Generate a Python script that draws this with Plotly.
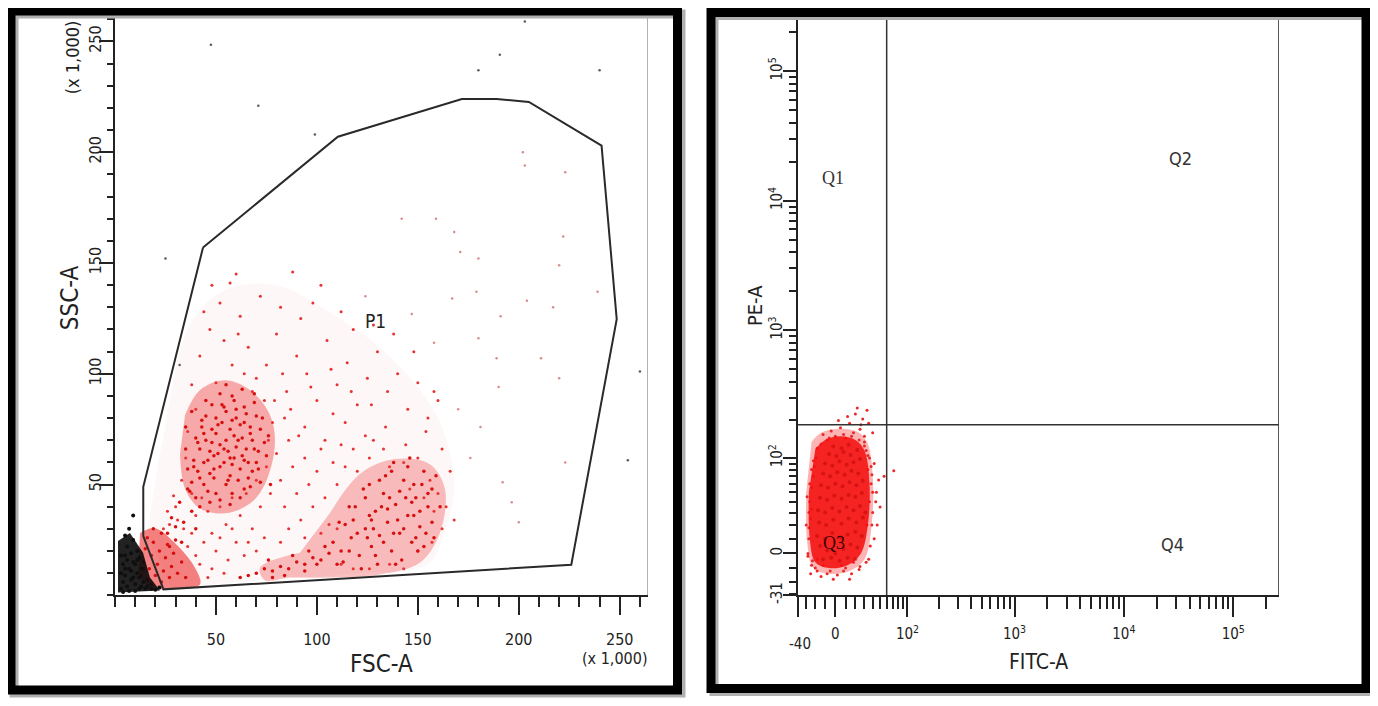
import numpy as np
import plotly.graph_objects as go

# page is offset by the default 8px body margin
OFF = 8
W, H = 1370, 698

# ---------------- Left panel data: FSC-A / SSC-A (x 1,000) ----------------
gate_p1_fsc = [43.6, 110.4, 171.8, 189.0, 205.0, 241.0, 248.5, 226.0, 24.0, 14.0, 14.0, 43.6]
gate_p1_ssc = [157.0, 207.0, 224.0, 224.0, 222.7, 203.0, 124.7, 13.8, 2.7, 26.7, 49.0, 157.0]

# density outlines (dense red areas)
cloud_fsc = [16, 24, 37, 55, 80, 106, 136, 160, 168, 163, 155, 120, 60, 28]
cloud_ssc = [28, 72, 122, 138, 140, 128, 108, 80, 50, 28, 14, 10, 6, 3]
dense1_fsc = [34.7, 42.1, 54.5, 66.8, 76.7, 79.2, 74.3, 66.8, 54.5, 42.1, 34.7, 32.2]
dense1_ssc = [81.5, 92.7, 97.1, 92.7, 81.5, 68.2, 50.3, 41.4, 37.0, 39.2, 48.1, 63.7]
dense2_fsc = [106.4, 121.3, 138.6, 155.9, 163.4, 160.9, 151.0, 131.2, 106.4, 86.6, 74.3, 71.8, 91.6]
dense2_ssc = [37.0, 54.8, 61.5, 59.2, 48.1, 28.1, 14.7, 9.4, 8.0, 8.0, 6.7, 12.5, 19.2]
dense3_fsc = [12.4, 19.8, 29.7, 39.6, 42.1, 27.2, 17.3, 11.4]
dense3_ssc = [28.1, 30.3, 23.6, 12.5, 4.9, 2.7, 3.6, 10.2]
debris_fsc = [1.5, 7.4, 13.9, 17.3, 22.3, 1.5]
debris_ssc = [24.5, 28.1, 19.2, 8.0, 2.2, 1.3]

core1_pts = [
    (40,44),(46,47),(52,43),(58,46),(64,48),
    (38,51),(44,50),(49,53),(55,50),(61,52),(67,49),
    (41,56),(47,55),(52,58),(57,54),(62,57),(68,56),
    (39,61),(44,60),(49,63),(54,60),(59,62),(64,61),(70,60),
    (42,66),(47,65),(52,68),(56,65),(60,67),(65,66),(71,65),
    (40,71),(45,70),(50,73),(55,70),(59,72),(63,71),(68,70),
    (43,76),(48,75),(53,78),(57,75),(62,77),(67,76),(72,75),
    (45,81),(50,80),(55,83),(60,80),(65,82),(70,81),
    (48,86),(54,85),(59,88),(64,85),(69,87),
    (52,91),(58,90),(63,93),(36,57),(35,66),(74,69),
    (37,47),(39,58),(41,69),(43,79),(45,88),(47,42),(49,57),(51,64),(53,86),(55,95),
    (57,41),(58,59),(60,84),(62,44),(63,63),(66,53),(67,73),(69,91),(71,57),(73,80),
    (75,63),(76,72),(77,50),(35,76),(42,53),(46,61),(48,69),(51,77),(54,66),(56,52),
    (58,79),(61,70),(64,78),(66,60),(69,66),(72,51),(44,73),(38,83),(50,46),(57,62),
]
bridge_pts = [
    (26,28),(28,35),(30,25),(32,42),(34,33),(36,48),(38,38),(30,31),(27,22),(33,24),(40,30),(42,40),
]
core2_pts = [
    (112,20),(117,26),(121,18),(124,30),(127,22),(129,38),(131,27),(133,46),(135,33),(137,20),
    (139,41),(141,28),(143,52),(145,36),(147,24),(149,44),(151,31),(153,56),(155,40),(157,48),
    (119,40),(123,48),(126,36),(134,54),(138,60),(142,16),(146,62),(150,20),(114,32),(130,14),
    (136,44),(140,34),(144,44),(128,30),(132,40),(148,36),(152,50),(125,26),(118,34),(154,28),
    (108,24),(111,33),(113,15),(116,40),(120,28),(122,12),(124,44),(127,34),(129,18),(131,52),
    (133,24),(135,39),(137,56),(139,14),(141,47),(143,30),(145,58),(147,42),(149,26),(151,38),
    (153,22),(155,46),(157,33),(159,54),(161,40),(116,20),(126,50),(138,28),(148,50),(158,26),
]
band_pts = [
    (70,10),(74,12),(78,11),(82,13),(86,12),(90,15),(94,14),(98,17),(102,16),(106,19),
    (76,16),(88,18),(96,20),(104,22),(110,14),(66,9),(62,8),(100,14),(94,11),(84,9),(78,8),
]
origin_red_pts = [
    (13,9),(14,15),(15,21),(16,26),(16,7),(17,12),(18,18),(19,24),(20,9),(21,14),(22,20),
    (23,6),(24,11),(25,17),(26,23),(27,8),(28,13),(29,19),(31,10),(33,15),(35,8),(19,30),
    (23,28),(14,12),(18,5),
]
sparse_red_pts = [
    (38,95),(42,108),(47,120),(52,132),(57,141),(62,126),(66,112),(70,98),(75,104),(80,118),
    (85,92),(90,108),(95,100),(100,88),(105,115),(110,95),(115,105),(120,86),(125,98),(130,110),
    (135,92),(140,100),(145,84),(150,96),(155,80),(160,88),(72,135),(82,130),(92,125),(102,140),
    (112,128),(48,140),(60,145),(88,146),(98,132),(118,120),(128,122),(138,118),(44,128),(54,115),
    (64,100),(74,88),(84,80),(94,76),(104,70),(114,78),(124,72),(134,76),(144,68),(154,74),
    (162,66),(158,92),(148,110),(108,82),(78,78),(68,92),(58,104),(50,96),(40,84),(36,74),
    (30,40),(33,52),(35,62),(38,46),(40,36),(43,44),(46,38),(48,28),(52,40),(55,32),
    (58,44),(62,36),(65,46),(68,30),(70,52),(72,40),(75,58),(77,46),(80,64),(82,52),
    (84,40),(86,70),(88,58),(90,46),(92,34),(94,62),(96,50),(98,40),(100,56),(102,66),
    (104,44),(106,32),(108,60),(110,50),(112,68),(114,58),(118,66),(120,56),(126,62),(128,70),
    (133,66),(136,58),(143,60),(146,48),(150,62),(153,44),(156,52),(158,38),(160,46),(162,30),
    (164,40),(166,56),(168,34),(157,24),(150,20),(143,12),(136,14),(126,12),(118,12),(112,14),
    (60,24),(64,18),(56,16),(50,20),(44,24),(38,28),(34,30),(42,14),(48,12),(54,10),
    (27,32),(31,34),(29,45),(26,38),(24,30),(36,22),(40,18),(46,8),(52,26),(58,30),
    (66,24),(70,20),(74,26),(82,24),(86,30),(94,26),(102,28),(110,30),
    (79,88),(87,84),(97,94),(107,102),(117,92),(127,86),(76,70),(91,72),(83,100),(61,118),
]
faint_in_gate_pts = [
    (202,200),(203,194),(223,191),(142,170),(159,170),(168,164),(171,155),(180,152),(222,162),
    (220,149),(239,137),(217,130),(179,137),(191,126),(204,133),(167,134),(147,127),(124,135),
    (180,116),(158,114),(189,107),(211,107),(220,98),(190,94),(181,76),(223,60),(192,51),
    (196.5,42),(200,33),(170,84),(176,62),
]
outside_pts = [
    (47.5,248.5),(71,221),(99,208),(25,152),(203,259),(190.6,244),(180,237),(240,237),
    (254,61),(260,101),(32,104),
]
debris_pts = [
    (3,3),(4,6),(5,9),(6,4),(7,12),(8,7),(9,15),(10,5),(11,10),(12,3),(4,14),(5,18),
    (6,22),(7,2),(8,19),(9,25),(10,14),(11,20),(12,8),(13,4),(14,6),(15,3),(3,10),(4,1.5),
    (6,16),(8,11),(10,2),(12,17),(7,30),(9,36),(5,27),(16,4),(18,3),(20,2.5),(22,3.5),
    (5,12),(9,8),(11,16),(3,18),(13,12),
]

x_major_left = [50, 100, 150, 200, 250]
y_major_left = [50, 100, 150, 200, 250]

# ---------------- Right panel data: FITC-A / PE-A ----------------
gate_fitc = 60.0
gate_pe = 185.0

q3_outer_fitc = [-24, -14, 5, 24, 34, 40, 39, 30, 14, -6, -22, -29, -30]
q3_outer_pe = [135, 160, 172, 160, 130, 70, 22, -4, -12, -14, -10, 8, 50]
q3_dense_fitc = [-20, -10, 5, 20, 30, 36, 34, 26, 12, -6, -20, -26, -27]
q3_dense_pe = [118, 140, 150, 140, 115, 60, 20, 0, -8, -10, -6, 10, 50]

q3_core_pts = [
    (-15,5),(-8,2),(0,0),(8,3),(15,6),(22,4),
    (-18,12),(-10,10),(-3,14),(5,11),(12,13),(20,15),(27,12),
    (-16,22),(-9,20),(-2,24),(6,21),(13,25),(21,22),(28,26),
    (-17,32),(-10,30),(-3,34),(4,31),(11,35),(18,32),(25,36),(31,30),
    (-15,44),(-8,42),(-1,46),(6,43),(13,47),(20,45),(27,49),
    (-14,58),(-7,55),(0,60),(7,57),(14,62),(21,58),(28,64),
    (-12,74),(-5,70),(2,76),(9,72),(16,78),(23,74),
    (-10,90),(-3,86),(4,94),(11,88),(18,92),(25,98),
    (-6,108),(1,104),(8,112),(15,106),(22,116),
    (-2,124),(6,120),(13,128),
    (-12,-4),(-4,-3),(4,-5),(12,-3),(20,-4),
]
q3_halo_pts = [
    (-27,10),(-25,25),(-26,40),(-24,55),(-22,70),(-23,-5),(-21,85),(-20,-10),(-25,-14),(-19,100),
    (-27,18),(-24,33),(33,20),(36,40),(38,60),(34,80),(40,30),(42,10),(36,100),(45,50),
    (32,115),(39,72),(48,65),(35,-4),(-8,140),(0,150),(10,145),(18,160),(25,170),(30,135),
    (5,175),(-4,165),(14,190),(28,205),(20,225),(33,240),(22,250),(12,215),(35,190),(40,160),
    (-12,-8),(-5,-12),(2,-15),(10,-10),(18,-6),(25,-9),(-18,-4),(14,-18),(-14,-16),(6,-8),
    (56,70),(72,78),
    (-28,0),(-27,30),(-26,60),(-24,80),(-22,95),(-18,120),(-14,130),(-6,145),(8,155),(16,150),
    (24,140),(30,125),(34,105),(38,85),(40,50),(39,20),(37,5),(32,-6),(24,-11),(8,-12),
    (-8,-14),(-18,-12),(-24,-8),(-28,-2),(44,40),(46,20),(-30,20),(-29,45),(3,200),(26,185),
    (30,150),(-12,155),(50,35),(42,90),(-2,-18),(16,-14),
]

fitc_major = [-40, 0, 100, 1000, 10000, 100000]
fitc_major_text = ["", "0", "10<sup>2</sup>", "10<sup>3</sup>", "10<sup>4</sup>", "10<sup>5</sup>"]
pe_major = [-31, 0, 100, 1000, 10000, 100000]
pe_major_text = ["-31", "0", "10<sup>2</sup>", "10<sup>3</sup>", "10<sup>4</sup>", "10<sup>5</sup>"]
fitc_minor = [-30, -20, -10, 10, 20, 30, 40, 50, 60, 70, 80, 90,
              200, 300, 400, 500, 600, 700, 800, 900,
              2000, 3000, 4000, 5000, 6000, 7000, 8000, 9000,
              20000, 30000, 40000, 50000, 60000, 70000, 80000, 90000, 200000]
pe_minor = [-30, -20, -10, 10, 20, 30, 40, 50, 60, 70, 80, 90,
            200, 300, 400, 500, 600, 700, 800, 900,
            2000, 3000, 4000, 5000, 6000, 7000, 8000, 9000,
            20000, 30000, 40000, 50000, 60000, 70000, 80000, 90000, 200000]
FMAX = 262143


# biexponential-like display transform (arcsinh)
def fx(v):
    return np.arcsinh(np.asarray(v, dtype=float) / 46.0)


def fy(v):
    return np.arcsinh(np.asarray(v, dtype=float) / 38.0)


def unz(pts):
    return [p[0] for p in pts], [p[1] for p in pts]


def PX(x):
    return (x - OFF) / W


def PY(y):
    return 1 - (y - OFF) / H


NARROW = "Liberation Sans Narrow, Arial Narrow, DejaVu Sans Condensed, Liberation Sans"
TICKFONT = dict(family=NARROW, size=16, color="#222")
LABFONT = dict(family=NARROW, size=24, color="#222")
QSERIF = dict(family="Liberation Serif, Times New Roman, serif", size=18, color="#333")
QSANS = dict(family=NARROW, size=18, color="#333")

fig = go.Figure()


def sc(x, y, ax, **kw):
    fig.add_trace(go.Scatter(x=x, y=y, xaxis="x" if ax == 1 else "x2", yaxis="y" if ax == 1 else "y2",
                             hoverinfo="skip", **kw))


# ---- left traces
sc(cloud_fsc, cloud_ssc, 1, mode="lines", fill="toself", line=dict(width=0, shape="spline"),
   fillcolor="rgba(240,90,90,0.05)")
for fx_, fy_, a in ((dense1_fsc, dense1_ssc, 0.36), (dense2_fsc, dense2_ssc, 0.28), (dense3_fsc, dense3_ssc, 0.55)):
    sc(fx_, fy_, 1, mode="lines", fill="toself", line=dict(width=0, shape="spline"),
       fillcolor=f"rgba(235,30,30,{a})")
x, y = unz(sparse_red_pts)
sc(x, y, 1, mode="markers", marker=dict(size=3, color="rgb(232,50,50)"))
for pts in (core1_pts, bridge_pts, core2_pts, band_pts, origin_red_pts):
    x, y = unz(pts)
    sc(x, y, 1, mode="markers", marker=dict(size=3.5, color="rgb(215,15,15)"))
x, y = unz(faint_in_gate_pts)
sc(x, y, 1, mode="markers", marker=dict(size=2.5, color="rgb(215,140,140)"))
x, y = unz(outside_pts)
sc(x, y, 1, mode="markers", marker=dict(size=2.5, color="rgb(90,90,90)"))
sc(debris_fsc, debris_ssc, 1, mode="lines", fill="toself", line=dict(width=0), fillcolor="rgba(10,10,10,0.9)")
x, y = unz(debris_pts)
sc(x, y, 1, mode="markers", marker=dict(size=4, color="rgb(15,15,15)"))
sc(gate_p1_fsc, gate_p1_ssc, 1, mode="lines", line=dict(color="#2a2a2a", width=2))

# ---- right traces
sc(fx(q3_outer_fitc), fy(q3_outer_pe), 2, mode="lines", fill="toself",
   line=dict(width=0, shape="spline"), fillcolor="rgba(245,40,40,0.35)")
x, y = unz(q3_halo_pts)
sc(fx(x), fy(y), 2, mode="markers", marker=dict(size=3, color="rgb(235,40,40)"))
sc(fx(q3_dense_fitc), fy(q3_dense_pe), 2, mode="lines", fill="toself",
   line=dict(width=0, shape="spline"), fillcolor="rgba(245,15,15,0.88)")
x, y = unz(q3_core_pts)
sc(fx(x), fy(y), 2, mode="markers", marker=dict(size=4, color="rgba(180,0,0,0.45)"))

axis_common = dict(showgrid=False, zeroline=False, showline=True, linecolor="#222", linewidth=1.5,
                   ticks="outside", tickcolor="#222", tickwidth=1.5, tickfont=TICKFONT, fixedrange=True)

fig.update_layout(
    width=W, height=H, autosize=False,
    margin=dict(l=0, r=0, t=0, b=0),
    paper_bgcolor="white", plot_bgcolor="white",
    showlegend=False,
    xaxis=dict(axis_common, domain=[PX(115), PX(648)], range=[0, 264], anchor="y",
               tickmode="array", tickvals=x_major_left, ticktext=[str(v) for v in x_major_left],
               ticklen=18, ticklabelstandoff=11,
               minor=dict(tickmode="linear", tick0=0, dtick=10, ticks="outside", ticklen=10,
                          tickwidth=1.5, tickcolor="#222")),
    yaxis=dict(axis_common, domain=[PY(603), PY(15)], range=[0, 262], anchor="x",
               tickmode="array", tickvals=y_major_left, ticktext=[str(v) for v in y_major_left],
               ticklen=14, tickangle=-90, ticklabelstandoff=-8,
               minor=dict(tickmode="linear", tick0=0, dtick=10, ticks="outside", ticklen=6,
                          tickwidth=1.5, tickcolor="#222")),
    xaxis2=dict(axis_common, domain=[PX(798), PX(1279)], range=[float(fx(-40)), float(fx(FMAX))], anchor="y2",
                tickmode="array", tickvals=fx(fitc_major).tolist(), ticktext=fitc_major_text,
                ticklen=20, ticklabelstandoff=4, tickfont=dict(TICKFONT, size=15),
                minor=dict(tickmode="array", tickvals=fx(fitc_minor).tolist(), ticks="outside", ticklen=12,
                           tickwidth=1.5, tickcolor="#222")),
    yaxis2=dict(axis_common, domain=[PY(603), PY(17)], range=[float(fy(-31)), float(fy(FMAX))], anchor="x2",
                tickmode="array", tickvals=fy(pe_major).tolist(), ticktext=pe_major_text,
                ticklen=13, tickangle=-90, ticklabelstandoff=-5, tickfont=dict(TICKFONT, size=15),
                minor=dict(tickmode="array", tickvals=fy(pe_minor).tolist(), ticks="outside", ticklen=7,
                           tickwidth=1.5, tickcolor="#222")),
)

shapes = [
    dict(type="line", xref="x", yref="y", x0=264, x1=264, y0=0, y1=262, line=dict(color="#999", width=1.5)),
    dict(type="line", xref="x2", yref="y2", x0=float(fx(FMAX)), x1=float(fx(FMAX)),
         y0=float(fy(-31)), y1=float(fy(FMAX)), line=dict(color="#222", width=1.5)),
    dict(type="line", xref="x2", yref="y2", x0=float(fx(gate_fitc)), x1=float(fx(gate_fitc)),
         y0=float(fy(-31)), y1=float(fy(FMAX)), line=dict(color="#333", width=1.5)),
    dict(type="line", xref="x2", yref="y2", x0=float(fx(-40)), x1=float(fx(FMAX)),
         y0=float(fy(gate_pe)), y1=float(fy(gate_pe)), line=dict(color="#333", width=1.5)),
    dict(type="rect", xref="paper", yref="paper", x0=PX(14), x1=PX(681), y0=PY(14), y1=PY(702),
         line=dict(color="#b0b0b0", width=9), layer="above"),
    dict(type="rect", xref="paper", yref="paper", x0=PX(714), x1=PX(1369), y0=PY(15.5), y1=PY(700.5),
         line=dict(color="#b0b0b0", width=9), layer="above"),
    dict(type="rect", xref="paper", yref="paper", x0=PX(11), x1=PX(677.5), y0=PY(11), y1=PY(699),
         line=dict(color="black", width=9), layer="above"),
    dict(type="rect", xref="paper", yref="paper", x0=PX(711), x1=PX(1366), y0=PY(12.5), y1=PY(697.5),
         line=dict(color="black", width=9), layer="above"),
]
fig.update_layout(shapes=shapes)

ann = [
    dict(text="SSC-A", x=PX(70), y=PY(302), textangle=-90, font=LABFONT),
    dict(text="FSC-A", x=PX(381), y=PY(673), font=LABFONT),
    dict(text="(x 1,000)", x=PX(615), y=PY(667), font=dict(TICKFONT, size=16)),
    dict(text="(x 1,000)", x=PX(72), y=PY(58), textangle=-90, font=dict(TICKFONT, size=18)),
    dict(text="P1", x=PX(375), y=PY(325), font=dict(TICKFONT, size=19)),
    dict(text="PE-A", x=PX(755), y=PY(310), textangle=-90, font=dict(LABFONT, size=20)),
    dict(text="FITC-A", x=PX(1038), y=PY(671), font=dict(LABFONT, size=21)),
    dict(text="-40", x=PX(800), y=PY(652), font=dict(TICKFONT, size=15)),
    dict(text="Q1", x=PX(833), y=PY(180), font=QSERIF),
    dict(text="Q2", x=PX(1180), y=PY(160), font=QSANS),
    dict(text="Q3", x=PX(834), y=PY(550), font=dict(QSERIF, color="#3a0000")),
    dict(text="Q4", x=PX(1172), y=PY(552), font=QSANS),
]
for a in ann:
    a.update(xref="paper", yref="paper", showarrow=False, xanchor="center", yanchor="middle")
fig.update_layout(annotations=ann)

fig.write_html("out.html")
